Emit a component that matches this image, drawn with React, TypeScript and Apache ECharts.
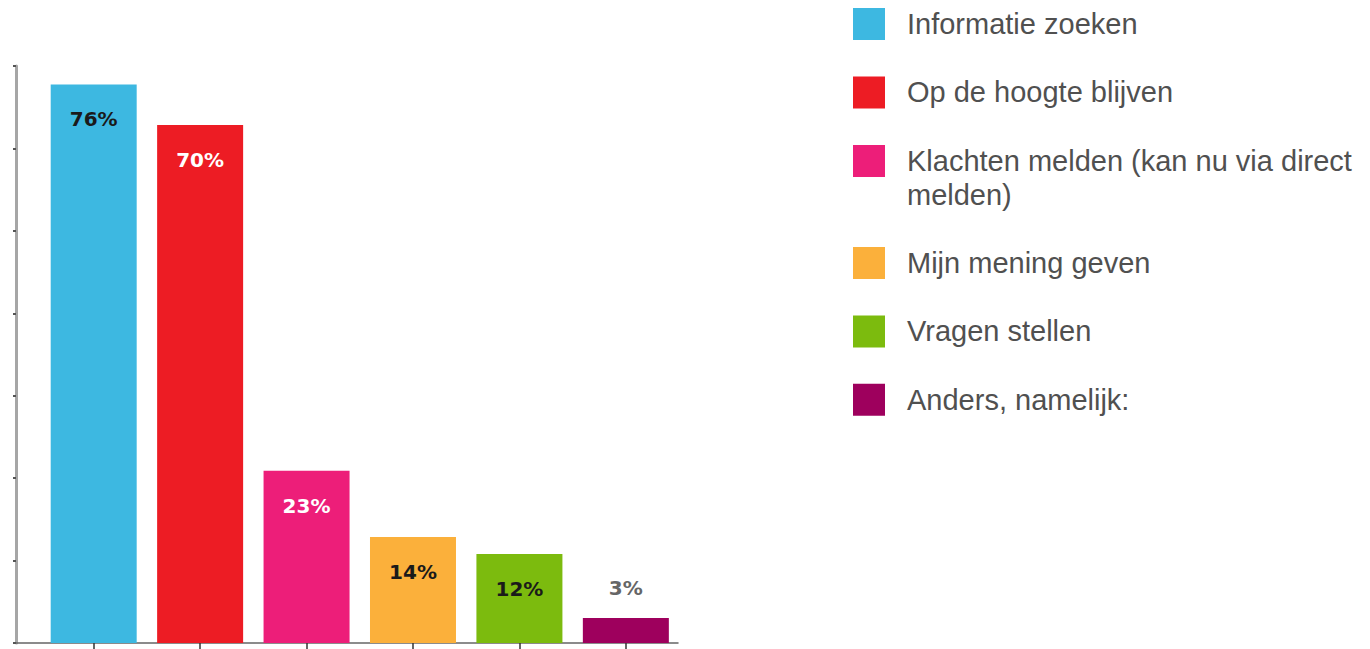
import React, { useEffect, useRef } from "react";
import * as echarts from "echarts";

const categories = [
  "Informatie zoeken",
  "Op de hoogte blijven",
  "Klachten melden (kan nu via direct melden)",
  "Mijn mening geven",
  "Vragen stellen",
  "Anders, namelijk:",
];
const values = [75.9, 70.4, 23.4, 14.4, 12.1, 3.4];
const positions = [0, 1, 2, 3, 4, 5];
const yMax = 78.4;
const yInterval = 11.2;

const barColors = ["#3DB8E1", "#ED1C24", "#ED1E79", "#FBB03B", "#7CBB0E", "#9E005D"];
const labelColors = ["#1a1a1a", "#ffffff", "#ffffff", "#1a1a1a", "#1a1a1a", "#666666"];

const legendGroups = [
  { items: [0, 1], top: 7, lead: false },
  { items: [2], top: 110, lead: true },
  { items: [3, 4, 5], top: 246, lead: false },
];

export default function App() {
  const ref = useRef<HTMLDivElement>(null);
  useEffect(() => {
    if (!ref.current) return;
    const chart = echarts.init(ref.current, null, { renderer: "svg" });
    const series = categories.map((name, i) => ({
      type: "bar",
      name,
      stack: "all",
      barWidth: 86,
      xAxisIndex: 0,
      data: [[positions[i], values[i]]],
      itemStyle: { color: barColors[i] },
      label: {
        show: true,
        position: i === 5 ? "top" : "insideTop",
        distance: i === 5 ? 20 : 25,
        formatter: (p: any) => Math.round(p.value[1]) + "%",
        color: labelColors[i],
        fontFamily: "DejaVu Sans",
        fontWeight: "bold",
        fontSize: 20,
        textBorderWidth: 0,
      },
    }));
    const legends = legendGroups.map((g) => ({
      orient: "vertical",
      left: 853,
      top: g.top,
      padding: 0,
      itemGap: 34.4,
      itemWidth: 32,
      itemHeight: 32,
      icon: "rect",
      itemStyle: { borderWidth: 0 },
      textStyle: {
        fontFamily: "Liberation Sans, Arial, sans-serif",
        fontSize: 29,
        color: "#505050",
        lineHeight: 34,
        width: 470,
        overflow: "break",
        padding: [0, 0, 0, 17],
      },
      formatter: (name: string) => (g.lead ? "\n" + name : name),
      selectedMode: false,
      data: g.items.map((i) => categories[i]),
    }));
    chart.setOption({
      animation: false,
      backgroundColor: "#ffffff",
      grid: { left: 16, right: 692, top: 66, bottom: 6, containLabel: false },
      xAxis: [
        {
          type: "value",
          min: -0.73,
          max: 5.49,
          position: "bottom",
          axisLine: { show: true, onZero: false, lineStyle: { color: "#666666", width: 1.5 } },
          axisTick: {
            show: true,
            inside: true,
            length: 11,
            customValues: positions,
            lineStyle: { color: "#333333", width: 1.5 },
          },
          axisLabel: { show: false },
          splitLine: { show: false },
        },
        {
          type: "value",
          min: -0.73,
          max: 5.49,
          position: "bottom",
          axisLine: { show: false, onZero: false },
          axisTick: {
            show: true,
            inside: false,
            length: 7,
            customValues: positions,
            lineStyle: { color: "#333333", width: 1.5 },
          },
          axisLabel: { show: false },
          splitLine: { show: false },
        },
      ],
      yAxis: {
        type: "value",
        min: 0,
        max: yMax,
        interval: yInterval,
        position: "left",
        axisLine: { show: true, onZero: false, lineStyle: { color: "#a6a6a6", width: 3 } },
        axisTick: { show: true, length: 3, lineStyle: { color: "#555555", width: 2 } },
        axisLabel: { show: false },
        splitLine: { show: false },
      },
      legend: legends,
      series,
    });
    return () => chart.dispose();
  }, []);
  return (
    <div
      ref={ref}
      style={{ position: "fixed", left: 0, top: 0, width: 1370, height: 649, background: "#fff" }}
    />
  );
}
